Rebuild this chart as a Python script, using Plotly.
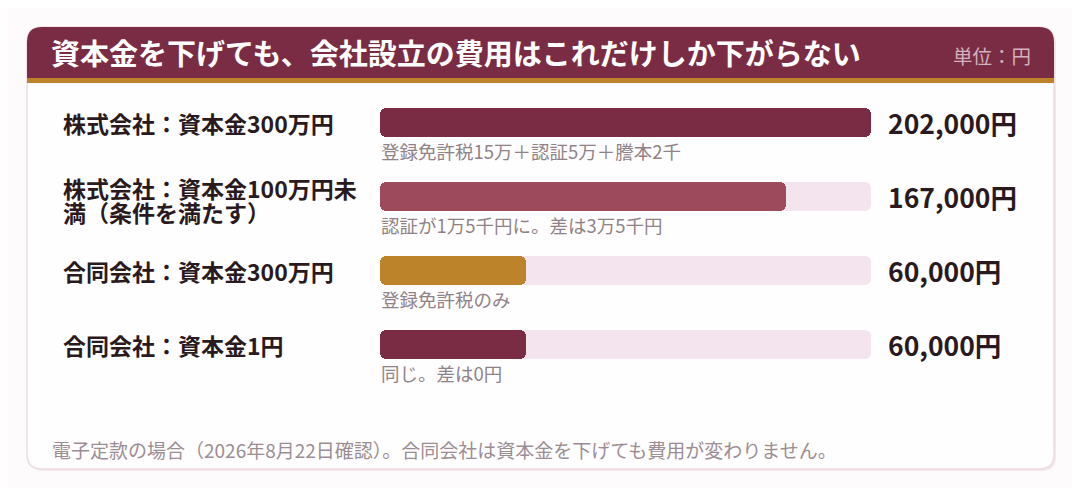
import plotly.graph_objects as go

# the page body adds an 8px margin, so the figure is sized to fit inside it
OFF = 8
W, H = 1080 - 2 * OFF, 496 - 2 * OFF

title = "資本金を下げても、会社設立の費用はこれだけしか下がらない"
unit_label = "単位：円"
labels = [
    "株式会社：資本金300万円",
    "株式会社：資本金100万円未<br>満（条件を満たす）",
    "合同会社：資本金300万円",
    "合同会社：資本金1円",
]
costs = [202000, 167000, 60000, 60000]
notes = [
    "登録免許税15万＋認証5万＋謄本2千",
    "認証が1万5千円に。差は3万5千円",
    "登録免許税のみ",
    "同じ。差は0円",
]
footer = "電子定款の場合（2026年8月22日確認）。合同会社は資本金を下げても費用が変わりません。"

bar_colors = ["#7b2c45", "#9d4a5d", "#bd832b", "#7b2c45"]
track_color = "#f4e4ee"
font_family = "Noto Sans CJK JP, Noto Sans, sans-serif"


def px(x):
    return (x - OFF) / W


def py(y):
    return 1 - (y - OFF) / H


def round_rect(x0, y0, x1, y1, r, top_only=False):
    # rounded rectangle path in paper coords, built from pixel positions
    rb = 0 if top_only else r
    pts = [
        f"M {px(x0 + r)},{py(y0)}",
        f"L {px(x1 - r)},{py(y0)}",
        f"Q {px(x1)},{py(y0)} {px(x1)},{py(y0 + r)}",
        f"L {px(x1)},{py(y1 - rb)}",
        f"Q {px(x1)},{py(y1)} {px(x1 - rb)},{py(y1)}",
        f"L {px(x0 + rb)},{py(y1)}",
        f"Q {px(x0)},{py(y1)} {px(x0)},{py(y1 - rb)}",
        f"L {px(x0)},{py(y0 + r)}",
        f"Q {px(x0)},{py(y0)} {px(x0 + r)},{py(y0)}",
        "Z",
    ]
    return " ".join(pts)


rows = list(range(len(costs)))
scale_max = max(costs)
zeros = [0] * len(costs)

fig = go.Figure()
# explicit base so both ends of each bar get rounded
fig.add_trace(go.Bar(
    x=[scale_max] * len(costs), y=rows, base=zeros, orientation="h", width=0.392,
    marker=dict(color=track_color, cornerradius=6, line=dict(width=0)),
    hoverinfo="skip", showlegend=False,
))
fig.add_trace(go.Bar(
    x=costs, y=rows, base=zeros, orientation="h", width=0.392,
    marker=dict(color=bar_colors, cornerradius=6, line=dict(width=0)),
    hoverinfo="skip", showlegend=False,
))

shapes = [
    dict(type="path", path=round_rect(29, 29, 1056, 471, 15), xref="paper", yref="paper",
         fillcolor="#f3e6ec", line=dict(width=0), layer="below"),
    dict(type="path", path=round_rect(27, 27, 1054, 469, 15), xref="paper", yref="paper",
         fillcolor="#fffefe", line=dict(color="#eddde3", width=1.5), layer="below"),
    dict(type="path", path=round_rect(27, 27, 1054, 79, 15, top_only=True), xref="paper",
         yref="paper", fillcolor="#7b2c45", line=dict(width=0), layer="below"),
    dict(type="rect", x0=px(27), x1=px(1054), y0=py(83), y1=py(78), xref="paper",
         yref="paper", fillcolor="#bd832b", line=dict(width=0), layer="below"),
]

annotations = [
    dict(text=f"<b>{title}</b>", x=px(49), y=py(52), xref="paper", yref="paper",
         xanchor="left", yanchor="middle", showarrow=False,
         font=dict(size=29, color="white", family=font_family)),
    dict(text=unit_label, x=px(1033), y=py(56), xref="paper", yref="paper",
         xanchor="right", yanchor="middle", showarrow=False,
         font=dict(size=19.5, color="#d2b2be", family=font_family)),
    dict(text=footer, x=px(50), y=py(449), xref="paper", yref="paper",
         xanchor="left", yanchor="middle", showarrow=False,
         font=dict(size=19, color="#9b8d93", family=font_family)),
]
for i, (lab, cost, note) in enumerate(zip(labels, costs, notes)):
    # wrapped labels: one annotation per line, 24px apart, nudged down a little
    lines = lab.split("<br>")
    n = len(lines)
    for j, line in enumerate(lines):
        shift = -(j - (n - 1) / 2) * 24 - (3.5 if n > 1 else 0)
        annotations.append(dict(
            text=f"<b>{line}</b>", x=px(61), y=i, xref="paper", yref="y",
            xanchor="left", yanchor="middle", showarrow=False, align="left",
            yshift=shift,
            font=dict(size=23, color="#2a1a20", family=font_family)))
    annotations.append(dict(
        text=f"<b>{cost:,}円</b>", x=px(886), y=i, xref="paper", yref="y",
        xanchor="left", yanchor="middle", showarrow=False,
        font=dict(size=26.5, color="#2a1a20", family=font_family)))
    annotations.append(dict(
        text=note, x=px(379), y=i + 0.39, xref="paper", yref="y",
        xanchor="left", yanchor="middle", showarrow=False,
        font=dict(size=18.5, color="#8f8288", family=font_family)))

# bar centres sit at 122.5px + 74px per row in page pixels
y_top = (OFF - 122.5) / 74
y_bottom = (OFF + H - 122.5) / 74

fig.update_layout(
    width=W, height=H,
    margin=dict(l=0, r=0, t=0, b=0),
    paper_bgcolor="#fdfbfc",
    plot_bgcolor="rgba(0,0,0,0)",
    barmode="overlay",
    bargap=0,
    xaxis=dict(range=[0, scale_max], domain=[px(380), px(871)], visible=False, fixedrange=True),
    yaxis=dict(range=[y_bottom, y_top], domain=[0, 1], visible=False, fixedrange=True),
    shapes=shapes,
    annotations=annotations,
    font=dict(family=font_family),
)

fig.write_html("out.html", config={"displayModeBar": False})
